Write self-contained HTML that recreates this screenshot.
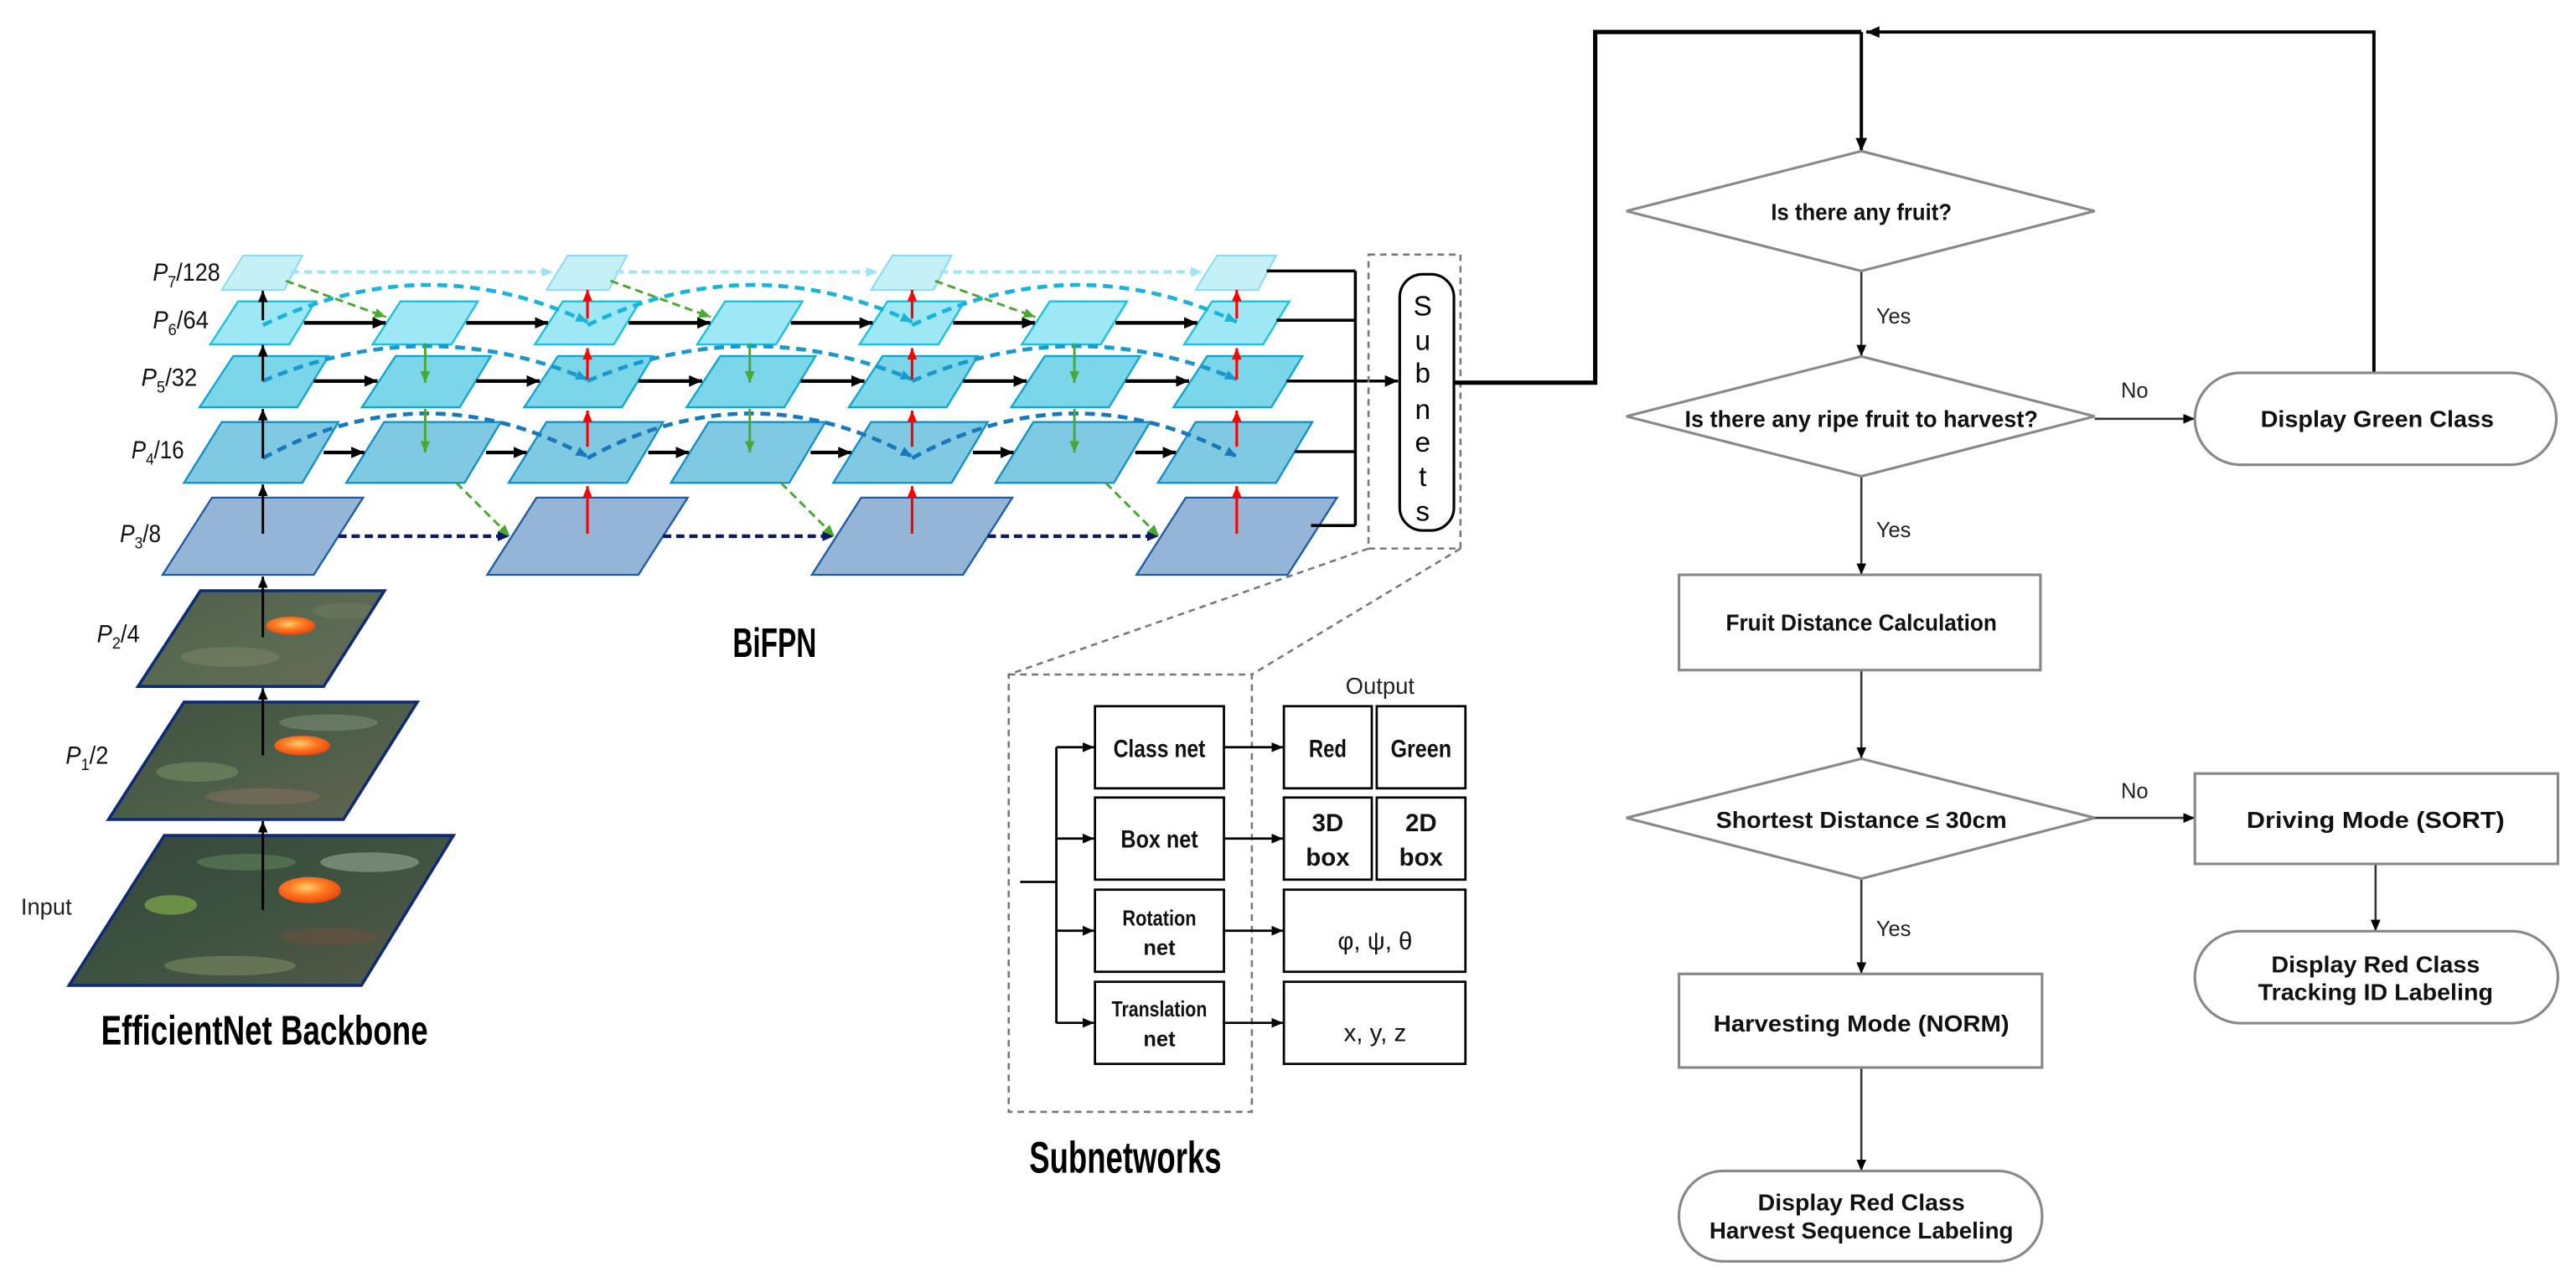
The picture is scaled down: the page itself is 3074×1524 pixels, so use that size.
<!DOCTYPE html>
<html><head><meta charset="utf-8"><style>
html,body{margin:0;padding:0;background:#fff;}
svg{display:block;}
text{font-family:"Liberation Sans",sans-serif;}
</style></head><body>
<svg width="3074" height="1524" viewBox="0 0 1568 777.55" preserveAspectRatio="none" xmlns="http://www.w3.org/2000/svg">
<defs>
<marker id="mk" markerUnits="userSpaceOnUse" markerWidth="10" markerHeight="10" refX="8" refY="5" orient="auto"><path d="M0,1.5 L8,5 L0,8.5 z" fill="#000"/></marker>
<marker id="mks" markerUnits="userSpaceOnUse" markerWidth="8" markerHeight="8" refX="7" refY="4" orient="auto"><path d="M0,1 L7,4 L0,7 z" fill="#000"/></marker>
<marker id="mr" markerUnits="userSpaceOnUse" markerWidth="8" markerHeight="8" refX="7" refY="4" orient="auto"><path d="M0,1 L7,4 L0,7 z" fill="#f00"/></marker>
<marker id="mg" markerUnits="userSpaceOnUse" markerWidth="8" markerHeight="8" refX="7" refY="4" orient="auto"><path d="M0,1 L7,4 L0,7 z" fill="#4aa830"/></marker>
<marker id="mc" markerUnits="userSpaceOnUse" markerWidth="8" markerHeight="8" refX="7" refY="4" orient="auto"><path d="M0,1 L7,4 L0,7 z" fill="#9be6f5"/></marker>
<marker id="mn" markerUnits="userSpaceOnUse" markerWidth="8" markerHeight="8" refX="7" refY="4" orient="auto"><path d="M0,1 L7,4 L0,7 z" fill="#0a1a60"/></marker>
<marker id="mb1" markerUnits="userSpaceOnUse" markerWidth="8" markerHeight="8" refX="7" refY="4" orient="auto"><path d="M0,1 L7,4 L0,7 z" fill="#18b4dc"/></marker>
<marker id="mb2" markerUnits="userSpaceOnUse" markerWidth="8" markerHeight="8" refX="7" refY="4" orient="auto"><path d="M0,1 L7,4 L0,7 z" fill="#1898cc"/></marker>
<marker id="mb3" markerUnits="userSpaceOnUse" markerWidth="8" markerHeight="8" refX="7" refY="4" orient="auto"><path d="M0,1 L7,4 L0,7 z" fill="#1878bc"/></marker>
<polygon id="p7" points="-12,155.6 24,155.6 13,176.5 -25,176.5" fill="#c6f0f8" stroke="#86dcef" stroke-width="1"/>
<polygon id="p6" points="-15,183.5 32,183.5 16,209.7 -32,209.7" fill="#9de8f4" stroke="#18c0e2" stroke-width="1.2"/>
<polygon id="p5" points="-18,216.8 40,216.8 21,248 -38.5,248" fill="#7ad6e8" stroke="#10a6d2" stroke-width="1.2"/>
<polygon id="p4" points="-25,257 46,257 24,294 -48,294" fill="#80c9e2" stroke="#1090c8" stroke-width="1.2"/>
<polygon id="p3" points="-31,303 61,303 31,350 -61,350" fill="#94b5d5" stroke="#1c5ca8" stroke-width="1.2"/>
<radialGradient id="or" cx="0.45" cy="0.4" r="0.6"><stop offset="0" stop-color="#ffd070"/><stop offset="0.5" stop-color="#ff7a20"/><stop offset="1" stop-color="#e84810"/></radialGradient>
<linearGradient id="ph2" x1="0" y1="0" x2="1" y2="1"><stop offset="0" stop-color="#4e5e4a"/><stop offset="0.5" stop-color="#5a6a52"/><stop offset="1" stop-color="#6a6a58"/></linearGradient>
<linearGradient id="ph1" x1="0" y1="0" x2="1" y2="1"><stop offset="0" stop-color="#3e5040"/><stop offset="0.5" stop-color="#4c5e48"/><stop offset="1" stop-color="#6a6654"/></linearGradient>
<linearGradient id="ph0" x1="0" y1="0" x2="1" y2="1"><stop offset="0" stop-color="#34463a"/><stop offset="0.5" stop-color="#3e5240"/><stop offset="1" stop-color="#5a5a4a"/></linearGradient>
<clipPath id="c2"><polygon points="122,359.7 234,359.7 197,418 84,418"/></clipPath>
<clipPath id="c1"><polygon points="112,427.5 254,427.5 209,499 66,499"/></clipPath>
<clipPath id="c0"><polygon points="100,508.7 276,508.7 220,600 42,600"/></clipPath>
</defs>

<!-- Photos -->
<g clip-path="url(#c2)"><rect x="80" y="355" width="160" height="70" fill="url(#ph2)"/>
<ellipse cx="140" cy="400" rx="30" ry="6" fill="#7a8266" opacity="0.6"/><ellipse cx="210" cy="372" rx="20" ry="5" fill="#6a7a60" opacity="0.6"/></g>
<g clip-path="url(#c1)"><rect x="60" y="420" width="200" height="85" fill="url(#ph1)"/>
<ellipse cx="120" cy="470" rx="25" ry="6" fill="#6f8660" opacity="0.7"/><ellipse cx="200" cy="440" rx="30" ry="5" fill="#7a8a78" opacity="0.6"/><ellipse cx="160" cy="485" rx="35" ry="5" fill="#8a7060" opacity="0.5"/></g>
<g clip-path="url(#c0)"><rect x="40" y="500" width="240" height="105" fill="url(#ph0)"/>
<ellipse cx="104" cy="551" rx="16" ry="6" fill="#6a9048"/><ellipse cx="225" cy="525" rx="30" ry="6" fill="#9aa898" opacity="0.6"/><ellipse cx="140" cy="588" rx="40" ry="6" fill="#7a8a60" opacity="0.6"/><ellipse cx="200" cy="570" rx="30" ry="5" fill="#6a5040" opacity="0.6"/><ellipse cx="150" cy="525" rx="30" ry="5" fill="#5a7a58" opacity="0.7"/></g>
<polygon points="122,359.7 234,359.7 197,418 84,418" fill="none" stroke="#0c2a78" stroke-width="1.8"/>
<polygon points="112,427.5 254,427.5 209,499 66,499" fill="none" stroke="#0c2a78" stroke-width="1.8"/>
<polygon points="100,508.7 276,508.7 220,600 42,600" fill="none" stroke="#0c2a78" stroke-width="1.8"/>
<ellipse cx="177" cy="381" rx="15" ry="5.5" fill="url(#or)"/>
<ellipse cx="184" cy="454" rx="17" ry="6" fill="url(#or)"/>
<ellipse cx="188.5" cy="542" rx="19" ry="8" fill="url(#or)"/>

<!-- Feature maps -->
<use href="#p7" x="160"/><use href="#p7" x="357.6"/><use href="#p7" x="555.2"/><use href="#p7" x="752.8"/>
<use href="#p6" x="160"/><use href="#p6" x="258.8"/><use href="#p6" x="357.6"/><use href="#p6" x="456.4"/><use href="#p6" x="555.2"/><use href="#p6" x="654"/><use href="#p6" x="752.8"/>
<use href="#p5" x="160"/><use href="#p5" x="258.8"/><use href="#p5" x="357.6"/><use href="#p5" x="456.4"/><use href="#p5" x="555.2"/><use href="#p5" x="654"/><use href="#p5" x="752.8"/>
<use href="#p4" x="160"/><use href="#p4" x="258.8"/><use href="#p4" x="357.6"/><use href="#p4" x="456.4"/><use href="#p4" x="555.2"/><use href="#p4" x="654"/><use href="#p4" x="752.8"/>
<use href="#p3" x="160"/><use href="#p3" x="357.6"/><use href="#p3" x="555.2"/><use href="#p3" x="752.8"/>

<g stroke="#9be6f5" stroke-width="2" stroke-dasharray="5,3" fill="none" marker-end="url(#mc)">
<line x1="177" y1="165.6" x2="336.7" y2="165.6"/><line x1="374.6" y1="165.6" x2="534.3" y2="165.6"/><line x1="572.2" y1="165.6" x2="731.9" y2="165.6"/></g>
<g stroke="#0a1a60" stroke-width="2.2" stroke-dasharray="5,3" fill="none" marker-end="url(#mn)">
<line x1="206" y1="326.5" x2="310" y2="326.5"/><line x1="403.6" y1="326.5" x2="507.6" y2="326.5"/><line x1="601.2" y1="326.5" x2="705.2" y2="326.5"/></g>
<g stroke="#4aa830" stroke-width="1.5" stroke-dasharray="5,3" fill="none" marker-end="url(#mg)">
<line x1="174" y1="171" x2="235" y2="193"/><line x1="371.6" y1="171" x2="432.6" y2="193"/><line x1="569.2" y1="171" x2="630.2" y2="193"/>
<line x1="277.8" y1="294" x2="310.3" y2="326.5"/><line x1="475.4" y1="294" x2="507.9" y2="326.5"/><line x1="673" y1="294" x2="705.5" y2="326.5"/></g>
<g fill="none" stroke-width="2.4" stroke-dasharray="6,4">
<g stroke="#18b4dc" marker-end="url(#mb1)"><path d="M160,198 Q258.8,150 357.6,196"/><path d="M357.6,198 Q456.4,150 555.2,196"/><path d="M555.2,198 Q654,150 752.8,196"/></g>
<g stroke="#1898cc" marker-end="url(#mb2)"><path d="M160,232 Q258.8,190 357.6,231"/><path d="M357.6,232 Q456.4,190 555.2,231"/><path d="M555.2,232 Q654,190 752.8,231"/></g>
<g stroke="#1878bc" marker-end="url(#mb3)"><path d="M160,279 Q258.8,225 357.6,278"/><path d="M357.6,279 Q456.4,225 555.2,278"/><path d="M555.2,279 Q654,225 752.8,278"/></g>
</g>
<g stroke="#000" stroke-width="2.2" marker-end="url(#mk)">
<line x1="185" y1="196.6" x2="234.8" y2="196.6"/><line x1="283.8" y1="196.6" x2="333.6" y2="196.6"/><line x1="382.6" y1="196.6" x2="432.4" y2="196.6"/><line x1="481.4" y1="196.6" x2="531.2" y2="196.6"/><line x1="580.2" y1="196.6" x2="630" y2="196.6"/><line x1="679" y1="196.6" x2="728.8" y2="196.6"/>
<line x1="191" y1="232" x2="229.8" y2="232"/><line x1="289.8" y1="232" x2="328.6" y2="232"/><line x1="388.6" y1="232" x2="427.4" y2="232"/><line x1="487.4" y1="232" x2="526.2" y2="232"/><line x1="586.2" y1="232" x2="625" y2="232"/><line x1="685" y1="232" x2="723.8" y2="232"/>
<line x1="197" y1="275.5" x2="221.8" y2="275.5"/><line x1="295.8" y1="275.5" x2="320.6" y2="275.5"/><line x1="394.6" y1="275.5" x2="419.4" y2="275.5"/><line x1="493.4" y1="275.5" x2="518.2" y2="275.5"/><line x1="592.2" y1="275.5" x2="617" y2="275.5"/><line x1="691" y1="275.5" x2="715.8" y2="275.5"/>
</g>
<g stroke="#4aa830" stroke-width="1.5" marker-end="url(#mg)">
<line x1="258.8" y1="209" x2="258.8" y2="233"/><line x1="258.8" y1="249" x2="258.8" y2="275.5"/>
<line x1="456.4" y1="209" x2="456.4" y2="233"/><line x1="456.4" y1="249" x2="456.4" y2="275.5"/>
<line x1="654" y1="209" x2="654" y2="233"/><line x1="654" y1="249" x2="654" y2="275.5"/>
</g>
<g stroke="#f00" stroke-width="1.6" marker-end="url(#mr)">
<line x1="357.6" y1="325" x2="357.6" y2="296"/><line x1="357.6" y1="272" x2="357.6" y2="250"/><line x1="357.6" y1="231" x2="357.6" y2="212"/><line x1="357.6" y1="194" x2="357.6" y2="176.5"/>
<line x1="555.2" y1="325" x2="555.2" y2="296"/><line x1="555.2" y1="272" x2="555.2" y2="250"/><line x1="555.2" y1="231" x2="555.2" y2="212"/><line x1="555.2" y1="194" x2="555.2" y2="176.5"/>
<line x1="752.8" y1="325" x2="752.8" y2="296"/><line x1="752.8" y1="272" x2="752.8" y2="250"/><line x1="752.8" y1="231" x2="752.8" y2="212"/><line x1="752.8" y1="194" x2="752.8" y2="176.5"/>
</g>
<g stroke="#000" stroke-width="1.5" marker-end="url(#mks)">
<line x1="160" y1="554" x2="160" y2="500"/><line x1="160" y1="460" x2="160" y2="419"/><line x1="160" y1="388" x2="160" y2="351"/>
<line x1="160" y1="325" x2="160" y2="295"/><line x1="160" y1="279" x2="160" y2="249"/><line x1="160" y1="232" x2="160" y2="210"/><line x1="160" y1="195" x2="160" y2="177"/>
</g>
<g stroke="#000" stroke-width="1.8" fill="none">
<line x1="771" y1="165" x2="825" y2="165"/><line x1="777" y1="195" x2="825" y2="195"/><line x1="788" y1="275" x2="825" y2="275"/><line x1="798" y1="320" x2="825" y2="320"/>
<line x1="825" y1="165" x2="825" y2="320"/>
</g>
<line x1="783" y1="232" x2="851" y2="232" stroke="#000" stroke-width="1.8" marker-end="url(#mk)"/>

<g font-family="Liberation Serif, serif" font-size="15" fill="#111">
<text x="93" y="171" textLength="41" lengthAdjust="spacingAndGlyphs"><tspan font-style="italic">P</tspan><tspan font-size="10" dy="4">7</tspan><tspan dy="-4">/128</tspan></text>
<text x="93" y="200" textLength="34" lengthAdjust="spacingAndGlyphs"><tspan font-style="italic">P</tspan><tspan font-size="10" dy="4">6</tspan><tspan dy="-4">/64</tspan></text>
<text x="86" y="235" textLength="34" lengthAdjust="spacingAndGlyphs"><tspan font-style="italic">P</tspan><tspan font-size="10" dy="4">5</tspan><tspan dy="-4">/32</tspan></text>
<text x="80" y="279" textLength="32" lengthAdjust="spacingAndGlyphs"><tspan font-style="italic">P</tspan><tspan font-size="10" dy="4">4</tspan><tspan dy="-4">/16</tspan></text>
<text x="73" y="330" textLength="25" lengthAdjust="spacingAndGlyphs"><tspan font-style="italic">P</tspan><tspan font-size="10" dy="4">3</tspan><tspan dy="-4">/8</tspan></text>
<text x="59" y="391" textLength="26" lengthAdjust="spacingAndGlyphs"><tspan font-style="italic">P</tspan><tspan font-size="10" dy="4">2</tspan><tspan dy="-4">/4</tspan></text>
<text x="40" y="465" textLength="26" lengthAdjust="spacingAndGlyphs"><tspan font-style="italic">P</tspan><tspan font-size="10" dy="4">1</tspan><tspan dy="-4">/2</tspan></text>
</g>
<text x="12.7" y="557" font-size="14" fill="#222" textLength="31" lengthAdjust="spacingAndGlyphs">Input</text>
<text x="61.5" y="636" font-size="25" font-weight="bold" fill="#000" textLength="199" lengthAdjust="spacingAndGlyphs">EfficientNet Backbone</text>
<text x="446" y="400" font-size="25" font-weight="bold" fill="#000" textLength="51" lengthAdjust="spacingAndGlyphs">BiFPN</text>
<text x="626.5" y="714" font-size="27" font-weight="bold" fill="#000" textLength="117" lengthAdjust="spacingAndGlyphs">Subnetworks</text>

<rect x="833" y="155" width="56" height="179" fill="none" stroke="#777" stroke-width="1.3" stroke-dasharray="4,3"/>
<rect x="852" y="167" width="33" height="156" rx="14" fill="#fff" stroke="#000" stroke-width="1.6"/>
<g font-size="17" text-anchor="middle" fill="#000">
<text x="866" y="192">S</text><text x="866" y="213">u</text><text x="866" y="233">b</text><text x="866" y="255">n</text><text x="866" y="275">e</text><text x="866" y="296">t</text><text x="866" y="317">s</text>
</g>
<g stroke="#777" stroke-width="1.3" stroke-dasharray="4,3" fill="none">
<line x1="833" y1="334" x2="614" y2="410.7"/><line x1="889" y1="334" x2="762" y2="410.7"/>
<rect x="614" y="410.7" width="148" height="266.3"/>
</g>
<g fill="#fff" stroke="#000" stroke-width="1.4">
<rect x="666.5" y="430" width="78.5" height="50"/><rect x="666.5" y="485.6" width="78.5" height="50"/><rect x="666.5" y="541.7" width="78.5" height="50"/><rect x="666.5" y="597.8" width="78.5" height="50"/>
<rect x="781.5" y="430" width="53.5" height="50"/><rect x="838" y="430" width="54" height="50"/>
<rect x="781.5" y="485.6" width="53.5" height="50"/><rect x="838" y="485.6" width="54" height="50"/>
<rect x="781.5" y="541.7" width="110.5" height="50"/><rect x="781.5" y="597.8" width="110.5" height="50"/>
</g>
<g stroke="#000" stroke-width="1.4" fill="none">
<line x1="621" y1="537" x2="643" y2="537"/><line x1="643" y1="455" x2="643" y2="623"/>
</g>
<g stroke="#000" stroke-width="1.4" marker-end="url(#mks)">
<line x1="643" y1="455" x2="666" y2="455"/><line x1="643" y1="510.6" x2="666" y2="510.6"/><line x1="643" y1="566.7" x2="666" y2="566.7"/><line x1="643" y1="622.8" x2="666" y2="622.8"/>
<line x1="745" y1="455" x2="781" y2="455"/><line x1="745" y1="510.6" x2="781" y2="510.6"/><line x1="745" y1="566.7" x2="781" y2="566.7"/><line x1="745" y1="622.8" x2="781" y2="622.8"/>
</g>
<g font-size="15" font-weight="bold" fill="#111" text-anchor="middle">
<text x="705.7" y="461" textLength="56" lengthAdjust="spacingAndGlyphs">Class net</text>
<text x="705.7" y="516" textLength="47" lengthAdjust="spacingAndGlyphs">Box net</text>
<text x="705.7" y="563.5" font-size="13" textLength="45" lengthAdjust="spacingAndGlyphs">Rotation</text>
<text x="705.7" y="581.5" font-size="13">net</text>
<text x="705.7" y="619" font-size="13" textLength="58" lengthAdjust="spacingAndGlyphs">Translation</text>
<text x="705.7" y="637" font-size="13">net</text>
<text x="808.2" y="461" textLength="23" lengthAdjust="spacingAndGlyphs">Red</text>
<text x="865" y="461" textLength="37" lengthAdjust="spacingAndGlyphs">Green</text>
<text x="808.2" y="506">3D</text><text x="808.2" y="527">box</text>
<text x="865" y="506">2D</text><text x="865" y="527">box</text>
<text x="837" y="578" font-weight="normal">φ, ψ, θ</text>
<text x="837" y="634" font-weight="normal">x, y, z</text>
</g>
<text x="840" y="422.5" font-size="14" fill="#222" text-anchor="middle" textLength="42" lengthAdjust="spacingAndGlyphs">Output</text>

<polyline points="885,233 971,233 971,19.5 1133,19.5" fill="none" stroke="#000" stroke-width="2.6"/>
<polyline points="1445,227 1445,19.5 1136,19.5" fill="none" stroke="#000" stroke-width="2" marker-end="url(#mk)"/>
<line x1="1133" y1="19.5" x2="1133" y2="92" stroke="#000" stroke-width="2" marker-end="url(#mk)"/>
<g stroke="#333" stroke-width="1.3" marker-end="url(#mks)">
<line x1="1133" y1="165" x2="1133" y2="217"/>
<line x1="1275" y1="255" x2="1336" y2="255"/>
<line x1="1133" y1="290" x2="1133" y2="350"/>
<line x1="1133" y1="408" x2="1133" y2="462"/>
<line x1="1275" y1="498" x2="1336" y2="498"/>
<line x1="1446" y1="526" x2="1446" y2="567"/>
<line x1="1133" y1="535" x2="1133" y2="593"/>
<line x1="1133" y1="650" x2="1133" y2="713"/>
</g>
<g fill="#fff" stroke="#888" stroke-width="1.6">
<polygon points="1133,92 1275,128.5 1133,165 990,128.5"/>
<polygon points="1133,217 1275,253.5 1133,290 990,253.5"/>
<rect x="1336" y="227" width="220" height="56" rx="28"/>
<rect x="1022" y="350" width="220" height="58"/>
<polygon points="1133,462 1275,498 1133,535 990,498"/>
<rect x="1336" y="471" width="221" height="55"/>
<rect x="1336" y="567" width="221" height="56" rx="28"/>
<rect x="1022" y="593" width="221" height="57"/>
<rect x="1022" y="713" width="221" height="55" rx="27"/>
</g>
<g font-size="14" font-weight="bold" fill="#111" text-anchor="middle">
<text x="1133" y="134" textLength="110" lengthAdjust="spacingAndGlyphs">Is there any fruit?</text>
<text x="1133" y="260" textLength="215" lengthAdjust="spacingAndGlyphs">Is there any ripe fruit to harvest?</text>
<text x="1447" y="260" textLength="142" lengthAdjust="spacingAndGlyphs">Display Green Class</text>
<text x="1133" y="384" textLength="165" lengthAdjust="spacingAndGlyphs">Fruit Distance Calculation</text>
<text x="1133" y="504" textLength="177" lengthAdjust="spacingAndGlyphs">Shortest Distance ≤ 30cm</text>
<text x="1446" y="504" textLength="157" lengthAdjust="spacingAndGlyphs">Driving Mode (SORT)</text>
<text x="1446" y="592" textLength="127" lengthAdjust="spacingAndGlyphs">Display Red Class</text>
<text x="1446" y="609" textLength="143" lengthAdjust="spacingAndGlyphs">Tracking ID Labeling</text>
<text x="1133" y="628" textLength="180" lengthAdjust="spacingAndGlyphs">Harvesting Mode (NORM)</text>
<text x="1133" y="737" textLength="126" lengthAdjust="spacingAndGlyphs">Display Red Class</text>
<text x="1133" y="754" textLength="185" lengthAdjust="spacingAndGlyphs">Harvest Sequence Labeling</text>
</g>
<g font-size="13" fill="#222">
<text x="1142" y="197">Yes</text>
<text x="1291" y="242">No</text>
<text x="1142" y="327">Yes</text>
<text x="1291" y="486">No</text>
<text x="1142" y="570">Yes</text>
</g>
</svg>
</body></html>
